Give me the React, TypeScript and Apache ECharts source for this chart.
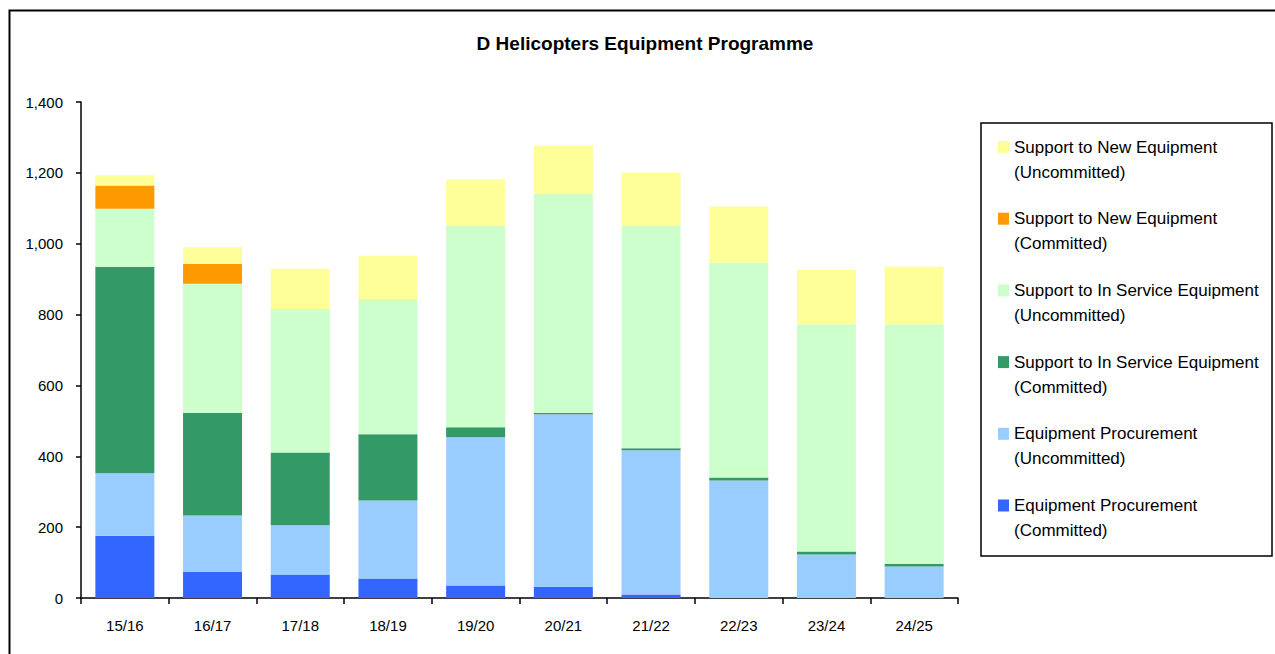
import React, { useEffect, useRef } from "react";
import * as echarts from "echarts";

// Financial years on the category axis
const years = ["15/16", "16/17", "17/18", "18/19", "19/20", "20/21", "21/22", "22/23", "23/24", "24/25"];

// Stacked components, bottom to top
const epCommitted = [176, 74, 66, 55, 35, 32, 10, 0, 0, 0];
const epUncommitted = [176, 159, 139, 220, 419, 487, 407, 332, 123, 89];
const siseCommitted = [583, 289, 206, 187, 28, 3, 6, 8, 8, 8];
const siseUncommitted = [164, 365, 405, 382, 569, 619, 628, 606, 642, 676];
const sneCommitted = [65, 56, 0, 0, 0, 0, 0, 0, 0, 0];
const sneUncommitted = [29, 48, 113, 122, 130, 136, 150, 159, 153, 162];

const seriesNames = [
  "Equipment Procurement\n(Committed)",
  "Equipment Procurement\n(Uncommitted)",
  "Support to In Service Equipment\n(Committed)",
  "Support to In Service Equipment\n(Uncommitted)",
  "Support to New Equipment\n(Committed)",
  "Support to New Equipment\n(Uncommitted)",
];
const seriesData = [epCommitted, epUncommitted, siseCommitted, siseUncommitted, sneCommitted, sneUncommitted];
const seriesColors = ["#3366FF", "#99CCFF", "#339966", "#CCFFCC", "#FF9900", "#FFFF99"];

const FONT = "'Liberation Sans', Arial, sans-serif";

export default function App() {
  const ref = useRef<HTMLDivElement>(null);

  useEffect(() => {
    if (!ref.current) return;
    const chart = echarts.init(ref.current, null, { renderer: "svg" });
    chart.setOption({
      animation: false,
      backgroundColor: "#ffffff",
      textStyle: { fontFamily: FONT, color: "#000" },
      title: {
        text: "D Helicopters Equipment Programme",
        left: 640,
        top: 29,
        textAlign: "center",
        textStyle: { fontFamily: FONT, fontWeight: "bold", fontSize: 19, color: "#000" },
      },
      grid: { left: 81, right: 317, top: 102, bottom: 56, containLabel: false },
      xAxis: {
        type: "category",
        data: years,
        boundaryGap: true,
        axisLine: { lineStyle: { color: "#000", width: 1.5 } },
        axisTick: { show: true, alignWithLabel: false, length: 6, lineStyle: { color: "#000", width: 1.5 } },
        axisLabel: { fontFamily: FONT, fontSize: 15, color: "#000", margin: 20 },
        splitLine: { show: false },
      },
      yAxis: {
        type: "value",
        min: 0,
        max: 1400,
        interval: 200,
        axisLine: { show: true, lineStyle: { color: "#000", width: 1.5 } },
        axisTick: { show: true, inside: false, length: 5, lineStyle: { color: "#000", width: 1.5 } },
        axisLabel: {
          fontFamily: FONT,
          fontSize: 15,
          color: "#000",
          margin: 18,
          formatter: (v: number) => v.toLocaleString("en-US"),
        },
        splitLine: { show: false },
      },
      legend: {
        orient: "vertical",
        left: 998,
        top: 109.5,
        padding: 0,
        itemGap: -3.3,
        itemWidth: 11,
        itemHeight: 12,
        icon: "rect",
        selectedMode: false,
        data: [...seriesNames].reverse(),
        // leading blank line keeps the swatch level with the first text line
        formatter: (name: string) => "\n" + name,
        textStyle: {
          fontFamily: FONT,
          fontSize: 17,
          lineHeight: 25,
          color: "#000",
        },
      },
      graphic: [
        {
          type: "rect",
          left: 7,
          top: 8,
          silent: true,
          shape: { x: 0, y: 0, width: 1300, height: 700 },
          style: { fill: "none", stroke: "#000", lineWidth: 2 },
        },
        {
          type: "rect",
          silent: true,
          shape: { x: 981, y: 123, width: 291, height: 433 },
          style: { fill: "none", stroke: "#000", lineWidth: 1.5 },
        },
      ],
      series: seriesNames.map((name, i) => ({
        name,
        type: "bar",
        stack: "total",
        barWidth: 59,
        data: seriesData[i],
        itemStyle: { color: seriesColors[i] },
      })),
    });
    return () => chart.dispose();
  }, []);

  return (
    <div
      ref={ref}
      style={{ position: "fixed", left: 0, top: 0, width: 1275, height: 654 }}
    />
  );
}
